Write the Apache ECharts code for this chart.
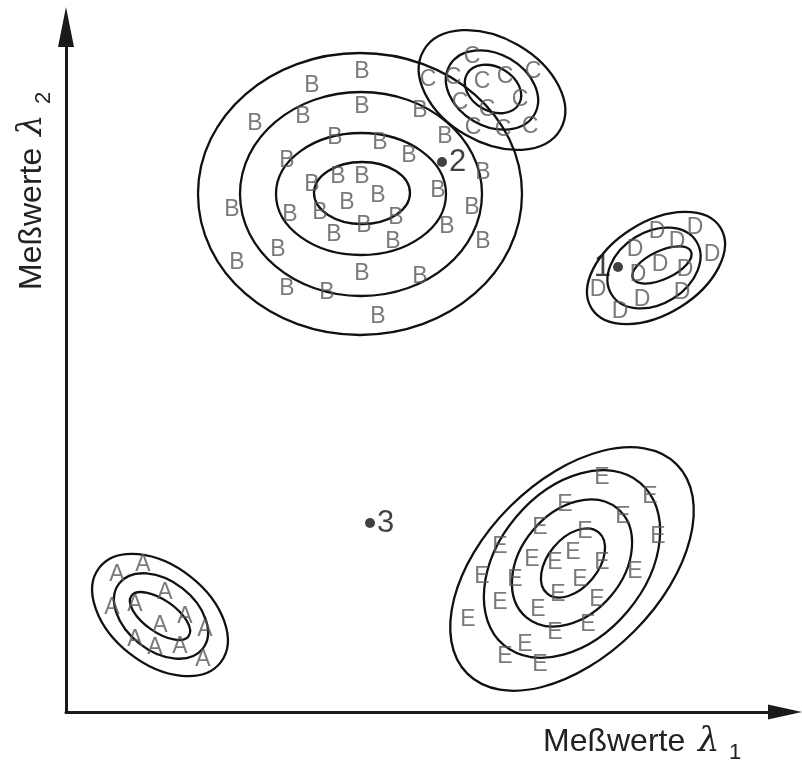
<!DOCTYPE html>
<html><head><meta charset="utf-8">
<script src="https://cdn.jsdelivr.net/npm/echarts@6/dist/echarts.min.js"></script>
<style>html,body{margin:0;padding:0;background:#fff}#c{width:802px;height:768px}</style>
</head><body><div id="c"></div>
<script>
// Cluster sample positions (measurement space, arbitrary units)
const pointsA = [[77,147],[51,137],[46,104],[69,107],[99,119],[119,95],[94,86],[139,82],[69,72],[89,64],[114,65],[137,52]];
const pointsB = [[296,640],[246,626],[296,605],[189,588],[237,595],[354,601],[269,574],[314,569],[379,575],[221,551],[343,556],[417,539],[246,527],[272,535],[296,535],[281,509],[312,516],[372,521],[166,502],[224,497],[254,499],[330,494],[298,486],[406,504],[268,477],[327,470],[381,485],[417,470],[212,462],[171,449],[296,438],[354,435],[221,423],[261,419],[312,395]];
const pointsC = [[406,655],[362,632],[387,634],[416,630],[439,635],[467,640],[394,609],[421,602],[454,612],[407,584],[437,582],[464,585]];
const pointsD = [[591,480],[629,484],[569,462],[611,470],[646,457],[594,447],[572,437],[619,442],[532,422],[576,412],[616,419],[554,400]];
const pointsE = [[536,234],[584,215],[499,207],[557,195],[474,184],[519,180],[592,175],[434,165],[466,152],[507,159],[489,149],[536,149],[569,140],[416,135],[449,132],[514,132],[492,117],[434,109],[472,102],[531,112],[402,92],[489,79],[522,87],[459,67],[439,55],[474,47]];
// Contour ellipses: [centerX, centerY, semiMajor, semiMinor, angleDeg]
const contoursA = [[94,97,77,49,-38],[95,96,53,35,-38],[94,96,35,16,-35]];
const contoursB = [[294,518,162,141,0],[295,518,121,102,0],[295,518,85,61,0],[296,519,48,31,0]];
const contoursC = [[426,622,79,52,-30],[426,622,49,36,-30],[427,623,30,22,-30]];
const contoursD = [[590,444,76,46,32],[588,444,50,36,32],[596,447,32,14,25]];
const contoursE = [[506,143,148,88,45],[506,148,106,73,50],[506,149,71,51,50],[507,149,40,25,50]];
// Test points
const testPoints = [[552,445,'1','left'],[376,550,'2','right'],[304,189,'3','right']];
const clusterLetters = ['A','B','C','D','E'];
const xName = 'Meßwerte';
const yName = 'Meßwerte';

const chart = echarts.init(document.getElementById('c'), null, {renderer:'canvas'});
const allContours = [].concat(contoursA, contoursB, contoursC, contoursD, contoursE);
const clusters = [pointsA, pointsB, pointsC, pointsD, pointsE];

const letterSeries = clusters.map((pts, i) => ({
  type:'scatter', data: pts, symbolSize: 1, silent:true,
  itemStyle:{color:'rgba(0,0,0,0)'},
  label:{show:true, position:'inside', formatter: clusterLetters[i], fontSize:23,
    fontFamily:'Liberation Sans, Arial, sans-serif', color:'#595959'}
}));

const axisLineStyle = {color:'#1a1a1a', width:3};
chart.setOption({
  animation:false,
  grid:{left:66, right:17, top:27, bottom:56},
  xAxis:{type:'value', min:0, max:719, axisTick:{show:false}, axisLabel:{show:false}, splitLine:{show:false},
    axisLine:{show:true, lineStyle:axisLineStyle, symbol:['none','triangle'], symbolSize:[15,34], symbolOffset:[0,0]}},
  yAxis:{type:'value', min:0, max:685, axisTick:{show:false}, axisLabel:{show:false}, splitLine:{show:false},
    axisLine:{show:true, lineStyle:axisLineStyle, symbol:['none','triangle'], symbolSize:[16,40], symbolOffset:[0,0]}},
  series:[
    {type:'custom', data: allContours, silent:true, encode:{x:0,y:1},
      renderItem:function(params, api){
        const c = api.coord([api.value(0), api.value(1)]);
        const s = api.size([api.value(2), api.value(3)]);
        return {type:'ellipse', x:c[0], y:c[1], rotation: api.value(4)*Math.PI/180,
          shape:{cx:0, cy:0, rx:s[0], ry:s[1]},
          style:{fill:'none', stroke:'#111', lineWidth:2.3}};
      }},
    ...letterSeries,
    {type:'scatter', data: testPoints.map(p=>({value:[p[0],p[1]], name:p[2], label:{position:p[3]}})),
      symbolSize:10, itemStyle:{color:'#111'}, silent:true,
      label:{show:true, formatter:'{b}', fontSize:31, distance:2, color:'#111', fontFamily:'Liberation Sans, Arial, sans-serif'}}
  ],
  graphic:[
    {type:'group', x:543, y:742, children:[
      {type:'text', x:0, y:0, style:{text:xName, font:'32px "Liberation Sans"', fill:'#222', align:'left', verticalAlign:'middle'}},
      {type:'text', x:155, y:0, style:{text:'λ', font:'italic 34px "DejaVu Serif"', fill:'#222', align:'left', verticalAlign:'middle'}},
      {type:'text', x:186, y:11, style:{text:'1', font:'22px "Liberation Sans"', fill:'#222', align:'left', verticalAlign:'middle'}}
    ]},
    {type:'group', x:32, y:290, rotation:Math.PI/2, children:[
      {type:'text', x:0, y:0, style:{text:yName, font:'32px "Liberation Sans"', fill:'#222', align:'left', verticalAlign:'middle'}},
      {type:'text', x:154, y:0, style:{text:'λ', font:'italic 34px "DejaVu Serif"', fill:'#222', align:'left', verticalAlign:'middle'}},
      {type:'text', x:186, y:12, style:{text:'2', font:'22px "Liberation Sans"', fill:'#222', align:'left', verticalAlign:'middle'}}
    ]}
  ]
});
</script></body></html>
